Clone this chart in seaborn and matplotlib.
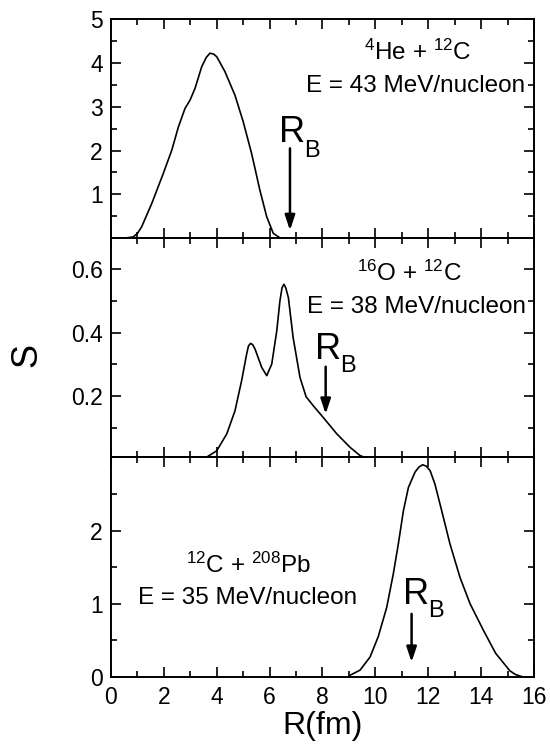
import numpy as np
import pandas as pd
import matplotlib
matplotlib.use("Agg")
import matplotlib.pyplot as plt
import seaborn as sns

# He + C, E = 43 MeV/nucleon
he_r = [0.30, 0.47, 0.84, 1.00, 1.16, 1.54, 1.98, 2.30, 2.55, 2.80, 2.99, 3.18, 3.43,
        3.60, 3.74, 3.88, 4.00, 4.31, 4.69, 5.00, 5.32, 5.63, 5.89, 6.14, 6.39, 6.60]
he_s = [0.00, 0.00, 0.03, 0.11, 0.26, 0.79, 1.48, 2.01, 2.54, 2.96, 3.15, 3.42, 3.91,
        4.12, 4.22, 4.20, 4.14, 3.80, 3.26, 2.66, 1.93, 1.10, 0.49, 0.11, 0.01, 0.00]

# O + C, E = 38 MeV/nucleon
o_r = [3.50, 3.56, 4.00, 4.38, 4.69, 4.94, 5.13, 5.20, 5.28, 5.36, 5.45, 5.70, 5.89,
       6.08, 6.27, 6.39, 6.47, 6.54, 6.61, 6.71, 6.89, 7.15, 7.38, 7.65, 8.03, 8.54,
       9.04, 9.42, 9.80, 10.00]
o_s = [0.000, 0.007, 0.030, 0.083, 0.155, 0.249, 0.332, 0.358, 0.366, 0.362, 0.348,
       0.291, 0.265, 0.301, 0.405, 0.499, 0.540, 0.551, 0.540, 0.509, 0.384, 0.259,
       0.199, 0.171, 0.134, 0.083, 0.041, 0.015, 0.003, 0.000]

# C + Pb, E = 35 MeV/nucleon
pb_r = [9.00, 9.04, 9.42, 9.80, 10.11, 10.43, 10.68, 10.87, 11.06, 11.25, 11.50, 11.65,
        11.79, 11.93, 12.07, 12.25, 12.51, 12.82, 13.20, 13.58, 14.08, 14.55, 15.09,
        15.30, 15.55]
pb_s = [0.00, 0.02, 0.09, 0.27, 0.55, 0.95, 1.41, 1.82, 2.27, 2.59, 2.80, 2.87,
        2.90, 2.88, 2.82, 2.64, 2.27, 1.82, 1.36, 1.00, 0.64, 0.32, 0.08,
        0.03, 0.00]

# barrier radius arrows: x, arrow start, arrow end
rb_x = [6.77, 8.12, 11.37]
rb_from = [2.05, 0.293, 0.86]
rb_to = [0.18, 0.145, 0.20]

reaction_labels = [r"$^{4}$He + $^{12}$C", r"$^{16}$O + $^{12}$C", r"$^{12}$C + $^{208}$Pb"]
energy_labels = ["E = 43 MeV/nucleon", "E = 38 MeV/nucleon", "E = 35 MeV/nucleon"]

sns.set_style("ticks")
plt.rcParams["font.family"] = ["Liberation Sans", "DejaVu Sans"]
plt.rcParams["mathtext.fontset"] = "custom"
plt.rcParams["mathtext.rm"] = "Liberation Sans"
plt.rcParams["mathtext.it"] = "Liberation Sans:italic"
plt.rcParams["axes.linewidth"] = 1.4
for key in ["text.color", "axes.labelcolor", "xtick.color", "ytick.color", "axes.edgecolor"]:
    plt.rcParams[key] = "black"

fig, axes = plt.subplots(3, 1, figsize=(5.5, 7.48), dpi=100, sharex=True)
fig.subplots_adjust(left=0.2018, right=0.9709, top=0.9746, bottom=0.0953, hspace=0)

curves = [(he_r, he_s), (o_r, o_s), (pb_r, pb_s)]
for ax, (r, s) in zip(axes, curves):
    df = pd.DataFrame({"R": r, "S": s})
    sns.lineplot(data=df, x="R", y="S", ax=ax, color="black", lw=1.2, estimator=None)
    ax.set_xlabel("")
    ax.set_ylabel("")
    ax.tick_params(which="both", direction="in", top=True, right=True, width=1.2)
    ax.tick_params(which="major", length=7, labelsize=16.5, pad=6)
    ax.tick_params(which="minor", length=4)
    ax.tick_params(axis="x", which="major", pad=7)

ax1, ax2, ax3 = axes
ax1.set_xlim(0, 16)
ax3.set_xticks(np.arange(0, 17, 2))
ax3.set_xticks(np.arange(0, 17, 1), minor=True)

ax1.set_ylim(0, 5)
ax1.set_yticks([1, 2, 3, 4, 5])
ax1.set_yticks(np.arange(0.5, 5, 0.5), minor=True)

ax2.set_ylim(0.009, 0.695)
ax2.set_yticks([0.2, 0.4, 0.6])
ax2.set_yticklabels(["0.2", "0.4", "0.6"])
ax2.set_yticks([0.1, 0.3, 0.5], minor=True)

ax3.set_ylim(0, 3)
ax3.set_yticks([0, 1, 2])
ax3.set_yticks([0.5, 1.5, 2.5], minor=True)

# R_B labels and arrows (R and the subscript B placed as in the original)
r_pos = [(6.37, 2.19), (7.72, 0.317), (11.06, 1.0)]
b_pos = [(7.30, 1.86), (8.66, 0.275), (12.00, 0.82)]
for ax, x, y0, y1, (rx, ry), (bx, by) in zip(axes, rb_x, rb_from, rb_to, r_pos, b_pos):
    ax.annotate("", xy=(x, y1), xytext=(x, y0),
                arrowprops=dict(arrowstyle="-|>,head_length=0.6,head_width=0.2",
                                color="black", lw=1.8, mutation_scale=15,
                                shrinkA=0, shrinkB=0))
    ax.text(rx, ry, "R", fontsize=26, ha="left", va="baseline")
    ax.text(bx, by, "B", fontsize=17, ha="left", va="baseline")

# reaction labels
ax1.text(11.6, 4.06, reaction_labels[0], fontsize=17.5, ha="center", va="baseline")
ax1.text(15.68, 3.34, energy_labels[0], fontsize=17.5, ha="right", va="baseline")
ax2.text(11.3, 0.562, reaction_labels[1], fontsize=17.5, ha="center", va="baseline")
ax2.text(15.68, 0.4625, energy_labels[1], fontsize=17.5, ha="right", va="baseline")
ax3.text(5.2, 1.42, reaction_labels[2], fontsize=17.5, ha="center", va="baseline")
ax3.text(5.15, 1.0, energy_labels[2], fontsize=17.5, ha="center", va="baseline")

ax3.set_xlabel("R(fm)", fontsize=23, labelpad=1)
fig.text(0.049, 0.525, "S", fontsize=26, rotation=90, ha="center", va="center")

fig.savefig("out.png", dpi=100)
